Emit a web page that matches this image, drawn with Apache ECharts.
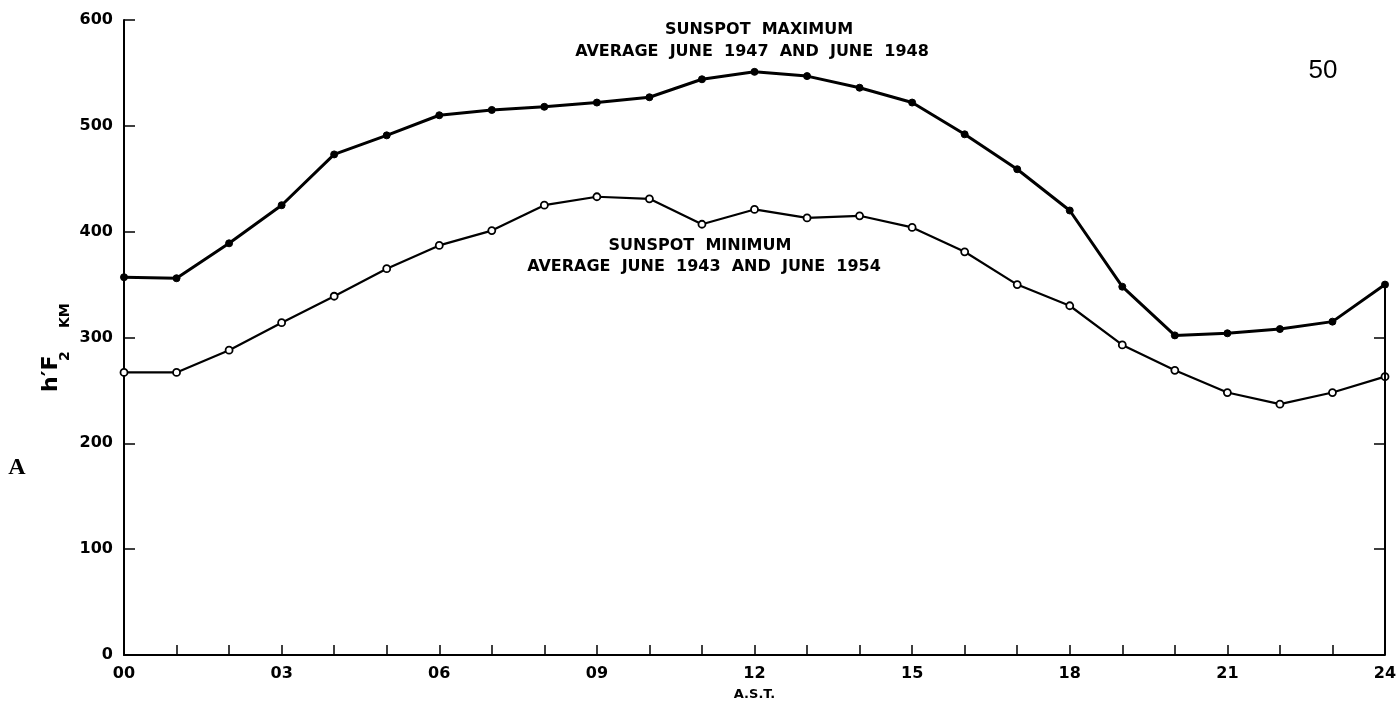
<!DOCTYPE html>
<html>
<head>
<meta charset="utf-8">
<script src="https://cdn.jsdelivr.net/npm/echarts@6/dist/echarts.min.js"></script>
<style>
  html, body { margin: 0; padding: 0; background: #fff; }
  #chart { width: 1400px; height: 704px; }
</style>
</head>
<body>
<div id="chart"></div>
<script>
// Hours (A.S.T.)
const hours = [0,1,2,3,4,5,6,7,8,9,10,11,12,13,14,15,16,17,18,19,20,21,22,23,24];
// Sunspot maximum: average June 1947 and June 1948 (h'F2, km)
const sunspotMax = [357,356,389,425,473,491,510,515,518,522,527,544,551,547,536,522,492,459,420,348,302,304,308,315,350];
// Sunspot minimum: average June 1943 and June 1954 (h'F2, km)
const sunspotMin = [267,267,288,314,339,365,387,401,425,433,431,407,421,413,415,404,381,350,330,293,269,248,237,248,263];
// Tick labels
const xTickLabels = ['00','03','06','09','12','15','18','21','24'];
const yTickValues = [0,100,200,300,400,500,600];
const rightTickValues = [100,200,300];

const maxData = hours.map((h, i) => [h, sunspotMax[i]]);
const minData = hours.map((h, i) => [h, sunspotMin[i]]);

const FONT = 'DejaVu Sans';
const ANNOT = 'bold 16px "DejaVu Sans"';
const chart = echarts.init(document.getElementById('chart'));
chart.setOption({
  animation: false,
  backgroundColor: '#ffffff',
  grid: { left: 124, right: 15, top: 20, bottom: 49, outerBoundsMode: 'none' },
  xAxis: {
    type: 'value', min: 0, max: 24, interval: 1,
    axisLine: { show: true, lineStyle: { color: '#000', width: 2 } },
    axisTick: { show: true, inside: true, length: 10, lineStyle: { color: '#000', width: 1.5 } },
    axisLabel: {
      color: '#000', fontFamily: FONT, fontWeight: 'bold', fontSize: 16, margin: 11,
      formatter: v => (v % 3 === 0 ? xTickLabels[v / 3] : '')
    },
    splitLine: { show: false },
    name: 'A.S.T.', nameLocation: 'middle', nameGap: 33,
    nameTextStyle: { color: '#000', fontFamily: FONT, fontSize: 13, fontWeight: 'bold' }
  },
  yAxis: [{
    type: 'value', min: 0, max: 600, interval: 100, position: 'left',
    axisLine: { show: true, lineStyle: { color: '#000', width: 2 } },
    axisTick: { show: true, inside: true, length: 11, lineStyle: { color: '#000', width: 1.5 } },
    axisLabel: { color: '#000', fontFamily: FONT, fontWeight: 'bold', fontSize: 16, margin: 11,
      customValues: yTickValues },
    splitLine: { show: false }
  }, {
    type: 'value', min: 0, max: 600, interval: 100, position: 'right',
    axisLine: { show: false },
    axisTick: { show: true, inside: true, length: 11, customValues: rightTickValues,
      lineStyle: { color: '#000', width: 1.5 } },
    axisLabel: { show: false },
    splitLine: { show: false }
  }],
  series: [{
    name: 'Sunspot maximum', type: 'line', data: maxData,
    symbol: 'circle', symbolSize: 7,
    itemStyle: { color: '#000', borderColor: '#000' },
    lineStyle: { color: '#000', width: 3 },
    markLine: {
      silent: true, symbol: 'none', label: { show: false },
      lineStyle: { color: '#000', width: 2, type: 'solid' },
      data: [[{ coord: [hours[hours.length - 1], 0] },
              { coord: [hours[hours.length - 1], sunspotMax[sunspotMax.length - 1]] }]]
    },
    z: 3
  }, {
    name: 'Sunspot minimum', type: 'line', data: minData,
    symbol: 'circle', symbolSize: 7,
    itemStyle: { color: '#fff', borderColor: '#000', borderWidth: 1.8 },
    lineStyle: { color: '#000', width: 2.2 },
    z: 3
  }],
  graphic: [
    { type: 'text', x: 759, y: 30, style: { text: 'SUNSPOT  MAXIMUM', fill: '#000',
      font: ANNOT, align: 'center', verticalAlign: 'middle' } },
    { type: 'text', x: 752, y: 52, style: { text: 'AVERAGE  JUNE  1947  AND  JUNE  1948', fill: '#000',
      font: ANNOT, align: 'center', verticalAlign: 'middle' } },
    { type: 'text', x: 700, y: 246, style: { text: 'SUNSPOT  MINIMUM', fill: '#000',
      font: ANNOT, align: 'center', verticalAlign: 'middle' } },
    { type: 'text', x: 704, y: 267, style: { text: 'AVERAGE  JUNE  1943  AND  JUNE  1954', fill: '#000',
      font: ANNOT, align: 'center', verticalAlign: 'middle' } },
    { type: 'text', x: 1323, y: 71, style: { text: '50', fill: '#000',
      font: '26px "Liberation Sans"', align: 'center', verticalAlign: 'middle' } },
    { type: 'text', x: 17, y: 468, style: { text: 'A', fill: '#000',
      font: 'bold 24px "Liberation Serif"', align: 'center', verticalAlign: 'middle' } },
    { type: 'text', x: 62, y: 392, rotation: Math.PI / 2, style: { text: 'h\u2032F', fill: '#000',
      font: 'bold 22px "DejaVu Sans"', align: 'left', verticalAlign: 'bottom' } },
    { type: 'text', x: 72, y: 361, rotation: Math.PI / 2, style: { text: '2', fill: '#000',
      font: 'bold 14px "DejaVu Sans"', align: 'left', verticalAlign: 'bottom' } },
    { type: 'text', x: 72, y: 328, rotation: Math.PI / 2, style: { text: 'KM', fill: '#000',
      font: 'bold 14px "DejaVu Sans"', align: 'left', verticalAlign: 'bottom' } }
  ]
});
</script>
</body>
</html>
